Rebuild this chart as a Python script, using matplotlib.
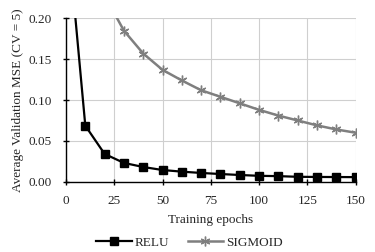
import numpy as np
import matplotlib.pyplot as plt

plt.rcParams['font.family'] = ['Liberation Serif', 'DejaVu Serif']

# average validation MSE
relu_epochs = [1, 10, 20, 30, 40, 50, 60, 70, 80, 90, 100, 110, 120, 130, 140, 150]
relu_mse = [0.30, 0.0686, 0.034, 0.023, 0.018, 0.0143, 0.0123, 0.0107, 0.0094,
            0.0082, 0.0072, 0.0068, 0.0060, 0.0058, 0.0057, 0.0056]
sig_epochs = [20, 30, 40, 50, 60, 70, 80, 90, 100, 110, 120, 130, 140, 150]
sig_mse = [0.228, 0.185, 0.157, 0.137, 0.124, 0.112, 0.104, 0.096, 0.088,
           0.081, 0.075, 0.069, 0.064, 0.060]

fig = plt.figure(figsize=(3.75, 2.52), dpi=100)
ax = fig.add_axes([0.176, 0.279, 0.772, 0.648])

ax.plot(relu_epochs, relu_mse, color='black', lw=1.6, marker='s', ms=5.5,
        label='RELU', clip_on=True)
ax.plot(sig_epochs, sig_mse, color='#7f7f7f', lw=1.8, marker=(6, 2, 0), ms=7,
        mew=1.0, label='SIGMOID', clip_on=True)

ax.set_xlim(0, 150)
ax.set_ylim(0, 0.20)
ax.set_xticks(np.arange(0, 151, 25))
ax.set_yticks(np.arange(0, 0.201, 0.05))
ax.set_yticklabels(['%.2f' % v for v in np.arange(0, 0.201, 0.05)])
ax.grid(True, color='#cfcfcf', lw=0.8)
ax.set_axisbelow(True)
for s in ['top', 'right']:
    ax.spines[s].set_visible(False)
for s in ['left', 'bottom']:
    ax.spines[s].set_linewidth(1.0)
ax.tick_params(direction='inout', length=5, width=1.0, labelsize=9.5,
               labelcolor='#262626')
ax.tick_params(axis='x', pad=7)
ax.tick_params(axis='y', pad=8)

ax.set_xlabel('Training epochs', fontsize=9.5, labelpad=5, color='#262626')
ax.set_ylabel('Average Validation MSE (CV = 5)', fontsize=9.5, labelpad=3, color='#262626')

leg = fig.legend(loc='lower center', bbox_to_anchor=(0.505, -0.035), ncol=2, frameon=False,
                 fontsize=9.5, handlelength=2.7, columnspacing=1.4, handletextpad=0.2)
for t in leg.get_texts():
    t.set_color('#262626')

fig.savefig('out.png', dpi=100)
